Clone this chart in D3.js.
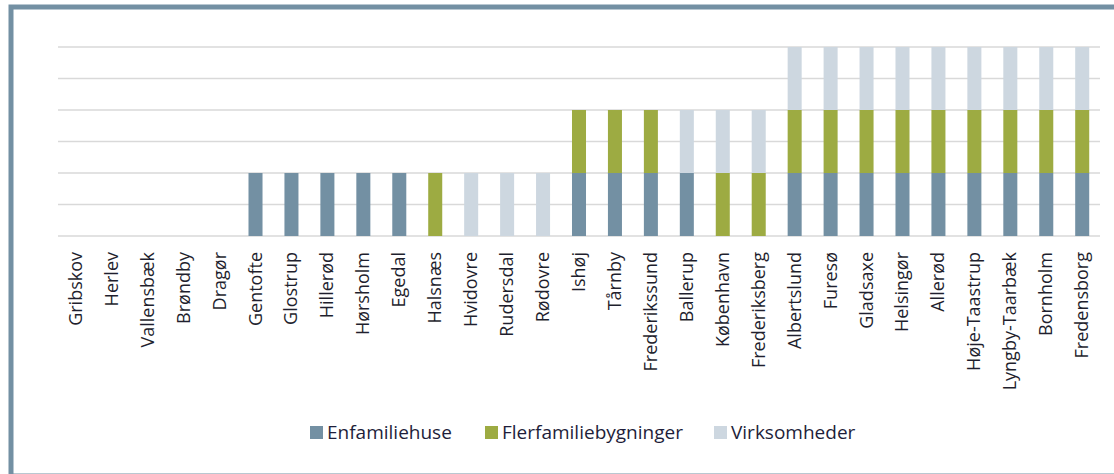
<html>
<head>
  <meta charset="utf-8">
  <style>
    body { margin: 0; background: #fff; }
    svg { display: block; }
    .lbl { font-family: "Open Sans", "Liberation Sans", sans-serif; font-size: 18px; fill: #1f1f2e; }
    .leg { font-family: "Open Sans", "Liberation Sans", sans-serif; font-size: 19px; fill: #1e1e3a; }
  </style>
</head>
<body>
  <div id="elm"></div>
  <script src="https://cdn.jsdelivr.net/npm/d3@7/dist/d3.min.js"></script>
  <script>
  'use strict';

  var kommuner = ['Gribskov', 'Herlev', 'Vallensbæk', 'Brøndby', 'Dragør', 'Gentofte', 'Glostrup',
    'Hillerød', 'Hørsholm', 'Egedal', 'Halsnæs', 'Hvidovre', 'Rudersdal', 'Rødovre', 'Ishøj',
    'Tårnby', 'Frederikssund', 'Ballerup', 'København', 'Frederiksberg', 'Albertslund', 'Furesø',
    'Gladsaxe', 'Helsingør', 'Allerød', 'Høje-Taastrup', 'Lyngby-Taarbæk', 'Bornholm', 'Fredensborg'];

  var enfamiliehuse        = [0,0,0,0,0, 1,1,1,1,1, 0, 0,0,0, 1,1,1, 1, 0,0, 1,1,1,1,1,1,1,1,1];
  var flerfamiliebygninger = [0,0,0,0,0, 0,0,0,0,0, 1, 0,0,0, 1,1,1, 0, 1,1, 1,1,1,1,1,1,1,1,1];
  var virksomheder         = [0,0,0,0,0, 0,0,0,0,0, 0, 1,1,1, 0,0,0, 1, 1,1, 1,1,1,1,1,1,1,1,1];

  var serier = ['Enfamiliehuse', 'Flerfamiliebygninger', 'Virksomheder'];
  var farver = ['#7390a3', '#9dab42', '#cdd7e0'];
  var gridVals = [0, 0.5, 1, 1.5, 2, 2.5, 3];

  var W = 1114, H = 474;
  var rows = kommuner.map(function(k, i) {
    return { k: k, Enfamiliehuse: enfamiliehuse[i], Flerfamiliebygninger: flerfamiliebygninger[i], Virksomheder: virksomheder[i] };
  });

  var svg = d3.select('#elm').append('svg').attr('width', W).attr('height', H);

  // frame
  svg.append('rect')
    .attr('x', 11).attr('y', 7).attr('width', W + 20).attr('height', H - 5)
    .attr('fill', 'none').attr('stroke', '#7390a3').attr('stroke-width', 5);

  var x = d3.scaleBand().domain(kommuner).range([58, 1100]).paddingInner(0.61).paddingOuter(0.3);
  var y = d3.scaleLinear().domain([0, 3]).range([236, 47]);

  svg.append('g').selectAll('line').data(gridVals).join('line')
    .attr('x1', 58).attr('x2', 1100)
    .attr('y1', function(d) { return y(d); }).attr('y2', function(d) { return y(d); })
    .attr('stroke', '#d9d9d9').attr('stroke-width', 1.5);

  var stacked = d3.stack().keys(serier)(rows);
  var color = d3.scaleOrdinal().domain(serier).range(farver);

  svg.append('g').selectAll('g').data(stacked).join('g')
    .attr('fill', function(d) { return color(d.key); })
    .selectAll('rect').data(function(d) { return d.filter(function(p) { return p[1] > p[0]; }); }).join('rect')
      .attr('x', function(d) { return x(d.data.k); })
      .attr('width', x.bandwidth())
      .attr('y', function(d) { return y(d[1]); })
      .attr('height', function(d) { return y(d[0]) - y(d[1]); });

  // category labels
  svg.append('g').selectAll('text').data(kommuner).join('text')
    .attr('class', 'lbl')
    .attr('transform', function(d) { return 'translate(' + (x(d) + x.bandwidth() / 2 + 6) + ',252) rotate(-90)'; })
    .attr('text-anchor', 'end')
    .text(function(d) { return d; });

  // legend
  var legX = [310, 485, 714];
  var leg = svg.append('g').selectAll('g').data(serier).join('g')
    .attr('transform', function(d, i) { return 'translate(' + legX[i] + ',426)'; });
  leg.append('rect').attr('width', 13).attr('height', 13).attr('fill', function(d) { return color(d); });
  leg.append('text').attr('class', 'leg').attr('x', 17).attr('y', 13)
    .text(function(d) { return d; });
  </script>
</body>
</html>
